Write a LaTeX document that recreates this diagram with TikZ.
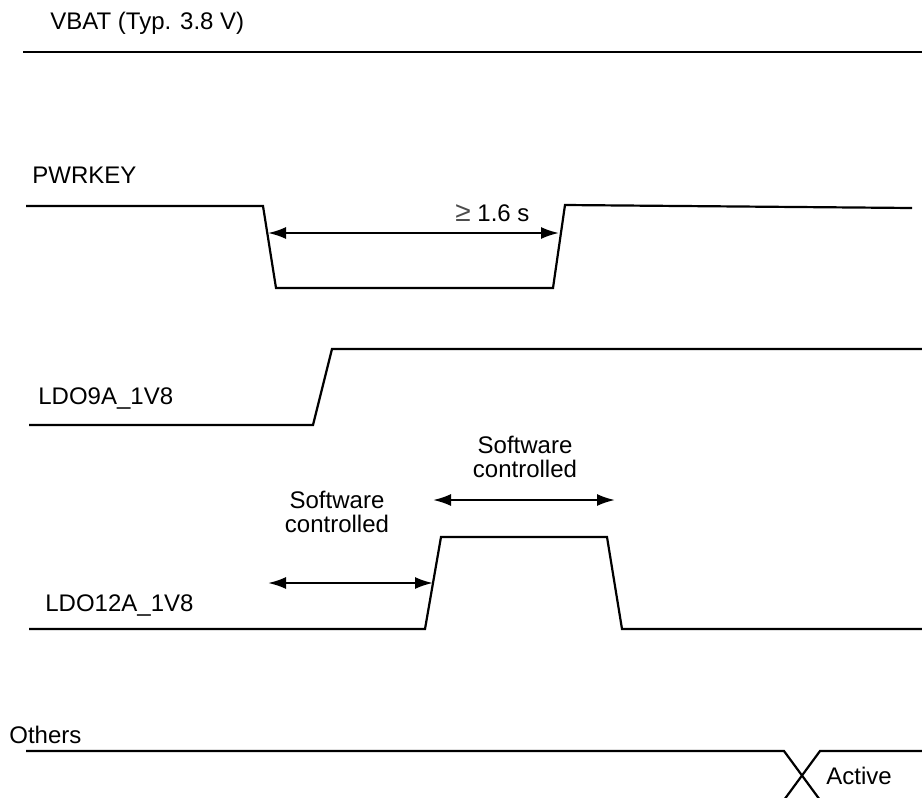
\documentclass[tikz,border=0pt]{standalone}
\usepackage{fontspec}
\setmainfont{Liberation Sans}
\usetikzlibrary{arrows.meta}
\definecolor{geqgray}{gray}{0.3}
\begin{document}
\begin{tikzpicture}[x=0.5pt,y=-0.5pt,
  wave/.style={line width=1.1pt, line join=miter},
  dimarrow/.style={line width=1.1pt, {Latex[length=9pt,width=6pt]}-{Latex[length=9pt,width=6pt]}},
  lbl/.style={font=\fontsize{12}{14}\selectfont, inner sep=0pt, anchor=base west},
  ctr/.style={font=\fontsize{12}{14}\selectfont, inner sep=0pt, anchor=base}]
\useasboundingbox (0,0) rectangle (922,798);

% VBAT
\node[lbl] (vbatlbl) at (50,29) {VBAT (Typ. 3.8 V)};
\coordinate (v0) at (23,52);
\coordinate (v1) at (922,52);
\draw[wave] (v0) -- (v1);

% PWRKEY
\node[lbl] (pwrlbl) at (32,183) {PWRKEY};
\coordinate (p0) at (26,206);
\coordinate (p1) at (263,206);
\coordinate (p2) at (276,288);
\coordinate (p3) at (553,288);
\coordinate (p4) at (565,205);
\coordinate (p5) at (912,208);
\draw[wave] (p0) -- (p1) -- (p2) -- (p3) -- (p4) -- (p5);
\coordinate (pa) at (268,233);
\coordinate (pb) at (559,233);
\draw[dimarrow] (pa) -- (pb);
\node[lbl] (tlbl) at (455,221) {{\color{geqgray}\fontsize{14}{14}\selectfont ≥} 1.6 s};

% LDO9A_1V8
\node[lbl] (ldo9lbl) at (38,404) {LDO9A\_1V8};
\coordinate (a0) at (29,425);
\coordinate (a1) at (313,425);
\coordinate (a2) at (332,349);
\coordinate (a3) at (922,349);
\draw[wave] (a0) -- (a1) -- (a2) -- (a3);

% LDO12A_1V8
\node[lbl] (ldo12lbl) at (45,611) {LDO12A\_1V8};
\coordinate (b0) at (29,629);
\coordinate (b1) at (425,629);
\coordinate (b2) at (441,537);
\coordinate (b3) at (607,537);
\coordinate (b4) at (622,629);
\coordinate (b5) at (922,629);
\draw[wave] (b0) -- (b1) -- (b2) -- (b3) -- (b4) -- (b5);

\coordinate (la) at (268,583);
\coordinate (lb) at (433,583);
\draw[dimarrow] (la) -- (lb);
\node[ctr] (sw1a) at (337,508) {Software};
\node[ctr] (sw1b) at (337,532) {controlled};

\coordinate (ra) at (433,500);
\coordinate (rb) at (615,500);
\draw[dimarrow] (ra) -- (rb);
\node[ctr] (sw2a) at (525,453) {Software};
\node[ctr] (sw2b) at (525,477) {controlled};

% Others
\node[lbl] (othlbl) at (9,743) {Others};
\coordinate (o0) at (26,751);
\coordinate (o1) at (784,751);
\coordinate (o2) at (820,800);
\coordinate (o3) at (784,800);
\coordinate (o4) at (820,751);
\coordinate (o5) at (922,751);
\draw[wave] (o0) -- (o1) -- (o2);
\draw[wave] (o3) -- (o4) -- (o5);
\node[lbl] (actlbl) at (826,784) {Active};
\end{tikzpicture}
\end{document}
